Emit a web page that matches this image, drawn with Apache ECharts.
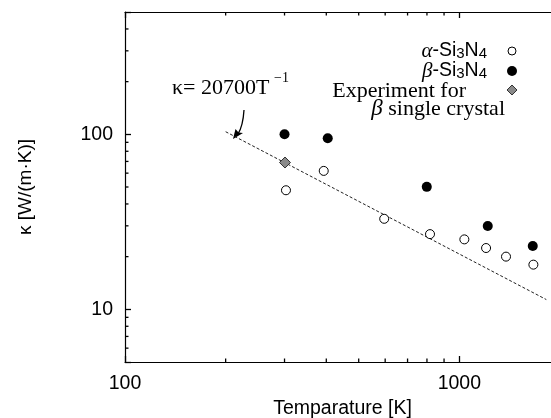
<!DOCTYPE html>
<html>
<head>
<meta charset="utf-8">
<script src="https://cdn.jsdelivr.net/npm/echarts@6/dist/echarts.min.js"></script>
<style>
  html, body { margin: 0; padding: 0; background: #fff; }
  #main { width: 551px; height: 418px; }
</style>
</head>
<body>
<div id="main"></div>
<script>
// alpha-Si3N4 (open circles)
var tempAlpha = [303, 393, 596, 817, 1035, 1202, 1379, 1665];
var kappaAlpha = [47.9, 61.8, 32.9, 26.9, 25.1, 22.4, 20.0, 18.0];
// beta-Si3N4 (filled circles)
var tempBeta = [300, 404, 799, 1216, 1658];
var kappaBeta = [100, 95, 50.1, 29.9, 23.0];
// experiment, beta single crystal
var tempExp = [301];
var kappaExp = [69];
// fit kappa = 20700 / T, end points
var tempFit = [200, 1820];
var kappaFit = [103.5, 11.37];

var xMinorTicks = [200, 300, 400, 500, 600, 700, 800, 900];
var yMinorTicks = [6, 7, 8, 9, 20, 30, 40, 50, 60, 70, 80, 90, 200, 300, 400];

var xMin = 100, xMax = 2000, yMin = 5, yMax = 500;

function pairs(xs, ys) {
  return xs.map(function (x, i) { return [x, ys[i]]; });
}

function isDecade(v) {
  var l = Math.log10(v);
  return Math.abs(l - Math.round(l)) < 1e-6;
}

// small inward ticks between decades, bottom and top edge
function minorX(params, api) {
  var v = api.value(0);
  var b = api.coord([v, yMin]);
  var t = api.coord([v, yMax]);
  return {
    type: 'group',
    children: [
      { type: 'line', shape: { x1: b[0], y1: b[1], x2: b[0], y2: b[1] - 3.5 }, style: { stroke: '#000', lineWidth: 1.3 } },
      { type: 'line', shape: { x1: t[0], y1: t[1], x2: t[0], y2: t[1] + 3.5 }, style: { stroke: '#000', lineWidth: 1.3 } }
    ]
  };
}

function minorY(params, api) {
  var v = api.value(1);
  var l = api.coord([xMin, v]);
  return {
    type: 'line',
    shape: { x1: l[0], y1: l[1], x2: l[0] + 3.5, y2: l[1] },
    style: { stroke: '#000', lineWidth: 1.3 }
  };
}

var chart = echarts.init(document.getElementById('main'), null, { renderer: 'canvas' });

var axisCommon = {
  type: 'log',
  logBase: 10,
  axisLine: { show: true, lineStyle: { color: '#000', width: 1.2 } },
  axisTick: { show: true, inside: true, length: 6, lineStyle: { color: '#000', width: 1.3 } },
  splitLine: { show: false },
  minorTick: { show: false }
};

var sansFont = '"Liberation Sans", Arial, sans-serif';
var serifFont = '"Liberation Serif", "Times New Roman", serif';

var option = {
  backgroundColor: '#fff',
  animation: false,
  grid: { left: 125, top: 12, width: 435, height: 350, outerBoundsMode: 'none', containLabel: false },
  xAxis: [
    Object.assign({}, axisCommon, {
      position: 'bottom',
      min: xMin, max: xMax,
      name: 'Temparature [K]',
      nameLocation: 'middle',
      nameGap: 31,
      nameTextStyle: { fontFamily: sansFont, fontSize: 19.5, color: '#000' },
      axisLabel: {
        margin: 12,
        fontFamily: sansFont, fontSize: 19.5, color: '#000',
        formatter: function (v) { return isDecade(v) ? String(Math.round(v)) : ''; }
      }
    }),
    Object.assign({}, axisCommon, {
      position: 'top',
      min: xMin, max: xMax,
      axisLabel: { show: false }
    })
  ],
  yAxis: [
    Object.assign({}, axisCommon, {
      position: 'left',
      min: yMin, max: yMax,
      name: 'κ [W/(m·K)]',
      nameLocation: 'middle',
      nameGap: 90,
      nameRotate: 90,
      nameTextStyle: { fontFamily: sansFont, fontSize: 19, color: '#000' },
      axisLabel: {
        margin: 12,
        fontFamily: sansFont, fontSize: 19.5, color: '#000',
        formatter: function (v) { return isDecade(v) ? String(Math.round(v)) : ''; }
      }
    })
  ],
  series: [
    {
      type: 'custom',
      coordinateSystem: 'cartesian2d',
      renderItem: minorX,
      data: xMinorTicks.map(function (v) { return [v, yMin]; }),
      silent: true,
      clip: false,
      z: 5
    },
    {
      type: 'custom',
      coordinateSystem: 'cartesian2d',
      renderItem: minorY,
      data: yMinorTicks.map(function (v) { return [xMin, v]; }),
      silent: true,
      clip: false,
      z: 5
    },
    {
      name: 'fit',
      type: 'line',
      data: pairs(tempFit, kappaFit),
      showSymbol: false,
      lineStyle: { color: '#222', width: 1, type: [3, 2] },
      z: 2
    },
    {
      name: 'alpha',
      type: 'scatter',
      data: pairs(tempAlpha, kappaAlpha),
      symbol: 'circle',
      symbolSize: 9,
      itemStyle: { color: '#fff', borderColor: '#000', borderWidth: 1, opacity: 1 },
      z: 3
    },
    {
      name: 'beta',
      type: 'scatter',
      data: pairs(tempBeta, kappaBeta),
      symbol: 'circle',
      symbolSize: 10,
      itemStyle: { color: '#000', opacity: 1 },
      z: 3
    },
    {
      name: 'exp',
      type: 'scatter',
      data: pairs(tempExp, kappaExp),
      symbol: 'path://M0,-5L5,0L0,5L-5,0Z',
      symbolSize: 11,
      itemStyle: { color: '#8a8a8a', borderColor: '#333', borderWidth: 1, opacity: 1 },
      z: 4
    }
  ],
  graphic: [
    // legend texts
    {
      type: 'text', x: 487, y: 51,
      style: {
        text: '{g|α}{t|-Si}{s|3}{t|N}{s|4}',
        align: 'right', verticalAlign: 'middle',
        rich: {
          g: { fontFamily: serifFont, fontStyle: 'italic', fontSize: 21, fill: '#000' },
          t: { fontFamily: sansFont, fontSize: 19.5, fill: '#000' },
          s: { fontFamily: sansFont, fontSize: 15, fill: '#000', verticalAlign: 'bottom' }
        }
      }
    },
    {
      type: 'text', x: 487, y: 71,
      style: {
        text: '{g|β}{t|-Si}{s|3}{t|N}{s|4}',
        align: 'right', verticalAlign: 'middle',
        rich: {
          g: { fontFamily: serifFont, fontStyle: 'italic', fontSize: 21, fill: '#000' },
          t: { fontFamily: sansFont, fontSize: 19.5, fill: '#000' },
          s: { fontFamily: sansFont, fontSize: 15, fill: '#000', verticalAlign: 'bottom' }
        }
      }
    },
    {
      type: 'text', x: 466, y: 91,
      style: {
        text: 'Experiment for',
        align: 'right', verticalAlign: 'middle',
        font: '22px ' + serifFont, fill: '#000'
      }
    },
    {
      type: 'text', x: 505, y: 109,
      style: {
        text: '{g|β}{n| single crystal}',
        align: 'right', verticalAlign: 'middle',
        rich: {
          g: { fontFamily: serifFont, fontStyle: 'italic', fontSize: 23, fill: '#000' },
          n: { fontFamily: serifFont, fontSize: 22, fill: '#000' }
        }
      }
    },
    // legend symbols
    { type: 'circle', shape: { cx: 512, cy: 51, r: 4 }, style: { fill: '#fff', stroke: '#000', lineWidth: 1 } },
    { type: 'circle', shape: { cx: 512, cy: 71, r: 5 }, style: { fill: '#000' } },
    { type: 'polygon', shape: { points: [[512, 85], [517, 90], [512, 95], [507, 90]] }, style: { fill: '#8a8a8a', stroke: '#333', lineWidth: 1 } },
    // fit annotation
    {
      type: 'text', x: 172, y: 88,
      style: {
        text: 'κ= 20700T',
        align: 'left', verticalAlign: 'middle',
        font: '22px ' + serifFont, fill: '#000'
      }
    },
    {
      type: 'text', x: 274, y: 78,
      style: {
        text: '−1',
        align: 'left', verticalAlign: 'middle',
        font: '14px ' + serifFont, fill: '#000'
      }
    },
    {
      type: 'bezierCurve',
      shape: { x1: 244, y1: 110, x2: 238, y2: 134, cpx1: 243, cpy1: 126 },
      style: { stroke: '#000', lineWidth: 1.3, fill: null }
    },
    {
      type: 'polygon',
      shape: { points: [[233, 139], [235.5, 129], [238.5, 132.5], [243, 133]] },
      style: { fill: '#000' }
    }
  ]
};

chart.setOption(option);
</script>
</body>
</html>
